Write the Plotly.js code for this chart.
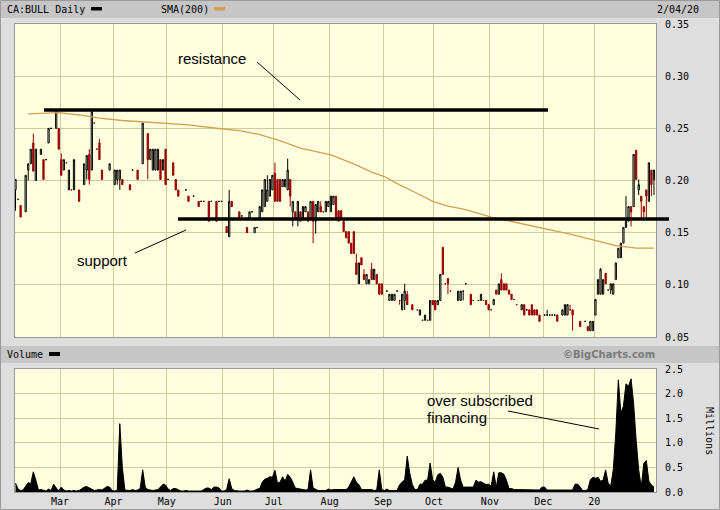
<!DOCTYPE html>
<html>
<head>
<meta charset="utf-8">
<script src="https://cdn.plot.ly/plotly-3.0.1.min.js"></script>
<style>
html,body{margin:0;padding:0;background:#dedede;}
#chart{width:720px;height:510px;}
</style>
</head>
<body>
<div id="chart"></div>
<script>
// ---- data (trading-day index 0 = first session shown, Feb 2019) ----
const open = [
.191,.182,.176,null,.170,.210,.216,.236,.200,null,
.225,.220,.220,.236,.250,null,.250,.250,.220,.210,
.217,.191,.191,.191,null,.191,null,.196,.210,.225,
.210,.255,.230,.236,.210,null,null,.210,null,.196,
.201,.201,.201,null,null,.196,.210,null,.210,null,
.216,null,.245,.220,.210,.210,.210,.220,.210,.230,
.201,null,.217,.201,.191,null,null,.191,.185,null,
.185,null,.180,.180,.180,null,.180,.180,null,.180,
.180,.180,null,.156,.146,.180,null,null,.170,.166,
null,.155,.163,.170,.150,.155,.163,.170,.175,.180,
.185,.191,.207,.201,.201,.194,.194,.191,.201,.170,
.170,.163,.170,.163,.170,.170,.163,.180,.161,.170,
.175,.170,.170,.175,.170,.177,.185,.171,.171,.161,
.151,.151,.140,.151,.121,.101,.126,.110,.101,.101,
.115,.105,.110,.101,.101,null,.094,.085,.085,.085,
.094,.085,.076,.085,.091,null,.081,null,.076,.071,
.066,.066,.066,.066,.085,.085,.081,.085,.136,.101,
.106,.094,null,null,.085,.085,.094,.101,null,.091,
.085,null,.085,.085,.085,.085,.081,.076,.081,.095,
.091,.105,.101,.101,.095,.091,.086,.081,null,.076,
.081,.076,.076,.081,.076,.076,.071,null,.071,.071,
.071,.071,.071,.071,null,.071,.071,.071,.076,.076,
null,null,.065,null,.065,.060,.056,.056,.071,.091,
.091,.091,.111,.095,.095,.091,.105,.126,.126,.140,
.155,.161,.175,.175,.229,.191,.185,.175,.191,.180,
.210,.201];
const high = [
.201,.182,.176,null,.205,.216,.230,.245,.230,null,
.230,.220,.220,.250,.250,null,.266,.250,.226,.220,
.217,.210,.191,.220,null,.191,null,.216,.224,.230,
.266,.255,.230,.240,.210,null,null,.216,null,.210,
.210,.210,.201,null,null,.196,.210,null,.210,null,
.255,null,.245,.230,.230,.230,.230,.220,.220,.230,
.201,null,.217,.201,.191,null,null,.191,.185,null,
.185,null,.180,.180,.180,null,.180,.180,null,.180,
.180,.180,null,.156,.191,.180,null,null,.170,.166,
null,.155,.170,.170,.155,.155,.175,.191,.201,.205,
.201,.205,.217,.201,.201,.201,.201,.221,.201,.180,
.170,.180,.170,.175,.175,.170,.180,.180,.177,.180,
.180,.170,.180,.180,.185,.185,.185,.171,.171,.161,
.151,.151,.140,.151,.130,.121,.126,.115,.110,.105,
.121,.115,.110,.101,.101,null,.094,.091,.091,.091,
.094,.085,.091,.101,.094,null,.081,null,.076,.076,
.066,.071,.066,.085,.085,.085,.085,.110,.136,.101,
.106,.094,null,null,.094,.094,.094,.101,null,.091,
.085,null,.085,.091,.085,.085,.081,.076,.086,.095,
.101,.111,.101,.101,.095,.091,.086,.081,null,.081,
.081,.076,.076,.081,.076,.076,.071,null,.071,.076,
.071,.071,.071,.071,null,.076,.081,.081,.081,.076,
null,null,.065,null,.065,.060,.065,.065,.086,.105,
.116,.105,.111,.095,.101,.101,.121,.135,.140,.155,
.185,.175,.175,.225,.229,.201,.185,.175,.191,.217,
.210,.210];
const low = [
.171,.182,.165,null,.170,.200,.216,.209,.200,null,
.225,.201,.220,.236,.250,null,.250,.230,.205,.210,
.217,.191,.191,.191,null,.180,null,.196,.201,.196,
.210,.255,.230,.220,.201,null,null,.210,null,.196,
.196,.191,.196,null,null,.191,.210,null,.201,null,
.216,null,.201,.220,.210,.210,.210,.201,.210,.196,
.201,null,.205,.191,.185,null,null,.191,.180,null,
.185,null,.175,.180,.180,null,.161,.180,null,.161,
.180,.180,null,.150,.146,.175,null,null,.163,.166,
null,.150,.163,.170,.150,.155,.163,.170,.175,.180,
.185,.191,.180,.180,.180,.194,.194,.191,.175,.156,
.163,.156,.161,.163,.170,.161,.163,.140,.149,.170,
.170,.170,.170,.175,.170,.177,.164,.161,.164,.151,
.145,.140,.130,.130,.110,.101,.119,.105,.101,.101,
.105,.105,.101,.091,.091,null,.094,.085,.085,.085,
.094,.081,.076,.076,.081,null,.076,null,.076,.071,
.066,.066,.066,.066,.081,.076,.081,.085,.110,.101,
.091,.094,null,null,.085,.085,.085,.101,null,.081,
.085,null,.085,.085,.085,.081,.076,.076,.081,.091,
.091,.095,.095,.095,.091,.086,.086,.081,null,.076,
.071,.076,.071,.071,.071,.071,.065,null,.071,.071,
.071,.071,.071,.065,null,.071,.071,.071,.076,.056,
null,null,.060,null,.065,.056,.056,.056,.071,.091,
.091,.091,.101,.095,.091,.091,.105,.126,.126,.140,
.155,.161,.156,.175,.201,.186,.163,.165,.163,.180,
.185,.186];
const close = [
.201,.182,.165,null,.205,.216,.230,.209,.230,null,
.230,.201,.220,.250,.250,null,.266,.230,.205,.220,
.217,.210,.191,.220,null,.180,null,.216,.224,.201,
.266,.255,.230,.220,.201,null,null,.216,null,.210,
.210,.210,.196,null,null,.191,.210,null,.201,null,
.255,null,.220,.230,.230,.230,.230,.201,.220,.196,
.201,null,.205,.191,.185,null,null,.191,.180,null,
.185,null,.175,.180,.180,null,.161,.180,null,.161,
.180,.180,null,.150,.180,.175,null,null,.163,.166,
null,.150,.170,.170,.155,.155,.175,.191,.201,.191,
.201,.205,.180,.180,.180,.201,.201,.210,.185,.180,
.163,.180,.161,.175,.175,.161,.180,.161,.177,.180,
.170,.170,.180,.180,.185,.185,.164,.161,.164,.151,
.145,.140,.130,.130,.110,.121,.119,.105,.110,.105,
.105,.115,.101,.091,.091,null,.094,.091,.091,.091,
.094,.085,.091,.094,.081,null,.076,null,.076,.076,
.066,.071,.066,.085,.081,.076,.085,.110,.110,.101,
.101,.094,null,null,.094,.094,.094,.101,null,.081,
.085,null,.085,.091,.085,.081,.076,.076,.086,.091,
.101,.095,.095,.095,.091,.086,.086,.081,null,.081,
.071,.076,.071,.071,.071,.071,.065,null,.071,.071,
.071,.071,.071,.065,null,.076,.081,.081,.076,.071,
null,null,.060,null,.065,.056,.065,.065,.086,.105,
.115,.105,.101,.095,.101,.101,.121,.135,.140,.155,
.161,.175,.170,.225,.201,.196,.180,.170,.185,.217,
.196,.210];
// volume, millions of shares
const volume = [
.18,.06,.03,.04,.12,.19,.17,.41,.24,.04,
.05,.03,.02,.06,.03,.16,.08,.03,.10,.04,
.02,.03,.02,.03,.02,.03,.06,.10,.11,.08,
.06,.03,.04,.05,.04,.08,.11,.10,.03,.02,
.03,1.39,.50,.04,.03,.03,.05,.03,.04,.07,
.45,.10,.05,.04,.03,.04,.05,.10,.16,.14,
.06,.03,.07,.07,.04,.02,.02,.03,.02,.02,
.02,.02,.03,.02,.05,.08,.08,.05,.10,.10,
.08,.02,.02,.05,.27,.07,.03,.02,.02,.02,
.02,.04,.02,.02,.03,.06,.07,.20,.26,.28,
.31,.30,.44,.18,.20,.31,.22,.36,.30,.20,
.08,.07,.06,.05,.04,.05,.45,.08,.05,.03,
.03,.03,.03,.06,.04,.05,.05,.05,.06,.05,
.05,.10,.20,.31,.20,.15,.05,.05,.05,.05,
.05,.03,.04,.45,.05,.03,.06,.03,.03,.03,
.03,.15,.20,.25,.73,.38,.15,.05,.05,.16,
.16,.24,.24,.59,.25,.20,.35,.38,.30,.10,
.10,.08,.06,.20,.50,.24,.10,.10,.10,.10,
.10,.24,.20,.21,.18,.15,.16,.12,.41,.10,
.39,.39,.36,.24,.07,.07,.05,.05,.04,.04,
.04,.04,.04,.04,.04,.04,.04,.10,.10,.04,
.04,.04,.04,.04,.04,.04,.04,.04,.04,.04,
.16,.16,.10,.03,.03,.05,.25,.30,.28,.30,
.22,.24,.45,.18,.12,.45,1.20,2.28,1.60,1.75,
2.20,2.15,2.30,1.80,1.05,.45,.10,.58,.64,.22,
.14,.10];
// 200-day simple moving average, read at sample sessions
const smaDay = [5,17,25,33,42,50,60,68,79,88,96,103,112,118,124,133,140,145,151,158,164,170,177,187,197,207,218,227,236,244,251];
const smaVal = [.2638,.2651,.2628,.2597,.2575,.2562,.2552,.2533,.2501,.2479,.2440,.2389,.2310,.2280,.2245,.2160,.2080,.2038,.1958,.1875,.1800,.1755,.1720,.1649,.1598,.1544,.1486,.1432,.1375,.1352,.1352];
// first session of each month and its label
const monthStart = [18,39,60,82,102,124,145,165,187,208,228];
const monthLabel = ['Mar','Apr','May','Jun','Jul','Aug','Sep','Oct','Nov','Dec','20'];
const priceTicks = [0.05,0.10,0.15,0.20,0.25,0.30,0.35];
const volTicks = [0,0.5,1.0,1.5,2.0,2.5];
const resistanceLevel = 0.2676;
const supportLevel = 0.1632;

const day = open.map((_, i) => i);

// ---- layout geometry ----
const W = 720, H = 510, ML = 15, MR = 64, MT = 24, MB = 18;
const PW = W - ML - MR, PH = H - MT - MB;
const PX = x => (x - ML) / PW;
const PY = y => (H - MB - y) / PH;
const mainDom = [PY(337), 1];
const volDom = [0, PY(369)];
const priceY = p => mainDom[0] + (p - 0.05) / 0.30 * (mainDom[1] - mainDom[0]);

const GRID = '#cfcc9c';
const MONO = 'DejaVu Sans Mono, monospace';
const SANS = 'Liberation Sans, Arial, sans-serif';
const RED = '#990000';
const TAN = '#d2a04e';

const traces = [
  {
    type: 'candlestick', x: day, open: open, high: high, low: low, close: close,
    xaxis: 'x', yaxis: 'y',
    increasing: {line: {color: '#000000', width: 1}, fillcolor: 'rgba(0,0,0,0)'},
    decreasing: {line: {color: RED, width: 1}, fillcolor: RED},
    whiskerwidth: 0, hoverinfo: 'skip', showlegend: false
  },
  {
    type: 'scatter', mode: 'lines', x: smaDay, y: smaVal, xaxis: 'x', yaxis: 'y',
    line: {color: TAN, width: 1.3}, hoverinfo: 'skip', showlegend: false
  },
  {
    type: 'scatter', mode: 'lines', x: day, y: volume, xaxis: 'x', yaxis: 'y2',
    fill: 'tozeroy', fillcolor: '#000000', line: {color: '#000000', width: 1},
    hoverinfo: 'skip', showlegend: false
  }
];

function txt(text, x, y, font, extra) {
  return Object.assign({
    text: text, xref: 'paper', yref: 'paper', x: PX(x), y: PY(y),
    xanchor: 'left', yanchor: 'middle', showarrow: false, font: font, borderpad: 0
  }, extra || {});
}
function rect(x0, y0, x1, y1, fill, layer) {
  return {type: 'rect', xref: 'paper', yref: 'paper', x0: PX(x0), x1: PX(x1), y0: PY(y0), y1: PY(y1),
          fillcolor: fill, line: {width: 0}, layer: layer || 'above'};
}
function seg(x0, y0, x1, y1, w) {
  return {type: 'line', xref: 'paper', yref: 'paper', x0: PX(x0), x1: PX(x1), y0: PY(y0), y1: PY(y1),
          line: {color: '#000000', width: w}};
}

const hdrFont = {family: MONO, size: 10, color: '#000000'};
const noteFont = {family: SANS, size: 15, color: '#000000'};

const layout = {
  width: W, height: H,
  margin: {l: ML, r: MR, t: MT, b: MB, pad: 0},
  paper_bgcolor: '#dedede',
  plot_bgcolor: '#ffffe0',
  showlegend: false,
  xaxis: {
    range: [-0.2, 251.8], anchor: 'y2',
    tickvals: monthStart.map(v => v - 0.5), ticktext: monthLabel,
    showgrid: true, gridcolor: GRID, gridwidth: 1, zeroline: false,
    ticks: '', tickfont: {family: MONO, size: 10, color: '#000000'},
    showline: true, linecolor: '#999999', linewidth: 1, mirror: 'all',
    rangeslider: {visible: false}, fixedrange: true
  },
  yaxis: {
    domain: mainDom, range: [0.05, 0.35], side: 'right',
    tickvals: priceTicks, ticktext: priceTicks.map(v => v.toFixed(2)),
    showgrid: true, gridcolor: GRID, zeroline: false, ticks: '',
    ticklabelstandoff: 6,
    tickfont: {family: MONO, size: 10, color: '#000000'},
    showline: true, linecolor: '#999999', linewidth: 1, mirror: true, fixedrange: true
  },
  yaxis2: {
    domain: volDom, range: [0, 2.5], side: 'right',
    tickvals: volTicks, ticktext: volTicks.map(v => v.toFixed(1)),
    showgrid: true, gridcolor: GRID, zeroline: false, ticks: '',
    ticklabelstandoff: 6,
    tickfont: {family: MONO, size: 10, color: '#000000'},
    showline: true, linecolor: '#999999', linewidth: 1, mirror: true, fixedrange: true
  },
  shapes: [
    rect(1, 1, 719, 18, '#c6c6c6', 'below'),
    rect(1, 346, 719, 363, '#c6c6c6', 'below'),
    rect(91, 7, 102, 10.5, '#000000'),
    rect(214, 7, 225, 10.5, TAN),
    rect(49, 352, 60, 356, '#000000'),
    {type: 'rect', xref: 'paper', yref: 'paper', x0: PX(0.5), x1: PX(719.5), y0: PY(0.5), y1: PY(509.5),
     line: {color: '#9a9a9a', width: 1}, fillcolor: 'rgba(0,0,0,0)'},
    {type: 'line', xref: 'paper', yref: 'paper', x0: PX(44), x1: PX(548),
     y0: priceY(resistanceLevel), y1: priceY(resistanceLevel), line: {color: '#000000', width: 3.5}},
    {type: 'line', xref: 'paper', yref: 'paper', x0: PX(178), x1: PX(669),
     y0: priceY(supportLevel), y1: priceY(supportLevel), line: {color: '#000000', width: 3.5}},
    seg(257, 62, 300, 100, 1),
    seg(135, 253, 186, 230, 1),
    seg(508, 411, 599, 429, 1)
  ],
  annotations: [
    txt('CA:BULL Daily', 6, 9.5, hdrFont),
    txt('SMA(200)', 160, 9.5, hdrFont),
    txt('2/04/20', 656, 9.5, hdrFont),
    txt('Volume', 6, 354.5, hdrFont),
    txt('©BigCharts.com', 562, 354.5, {family: 'DejaVu Sans, sans-serif', size: 10, color: '#7a7a7a', weight: 'bold'}),
    txt('Millions', 710, 431, hdrFont, {xanchor: 'center', textangle: 90}),
    txt('resistance', 177, 59, noteFont),
    txt('support', 76, 260, noteFont),
    txt('over subscribed', 426, 400, noteFont),
    txt('financing', 426, 417, noteFont)
  ]
};

Plotly.newPlot('chart', traces, layout, {staticPlot: true, displayModeBar: false});
</script>
</body>
</html>
